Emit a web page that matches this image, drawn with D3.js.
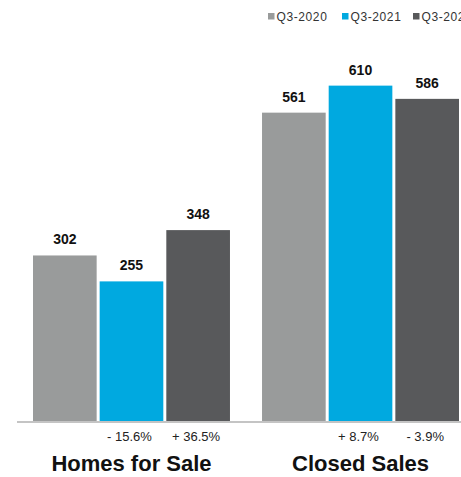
<!DOCTYPE html>
<html>
<head>
<meta charset="utf-8">
<script src="https://cdn.jsdelivr.net/npm/d3@7"></script>
<style>
  html, body { margin: 0; padding: 0; background: #fff; }
  svg { display: block; font-family: "Liberation Sans", Arial, Helvetica, sans-serif; }
</style>
</head>
<body>
<svg id="chart" width="461" height="477"></svg>
<script>
// Quarterly comparison: homes for sale vs. closed sales
const categories = ["Homes for Sale", "Closed Sales"];
const series = ["Q3-2020", "Q3-2021", "Q3-2022"];
const homesForSale = [302, 255, 348];
const closedSales = [561, 610, 586];
const yTicks = [0, 700];

const colors = ["#999b9b", "#00a9e0", "#58595b"];
const values = [homesForSale, closedSales];

const svg = d3.select("#chart");
const W = 461, H = 477;

const x0 = d3.scaleBand().domain(categories).range([33, 459]).paddingInner(0.14).paddingOuter(0);
const x1 = d3.scaleBand().domain(series).range([0, x0.bandwidth()]).paddingInner(0.045).paddingOuter(0);
const y = d3.scaleLinear().domain(d3.extent(yTicks)).range([422, 36]);

// percent change of each quarter vs. the one before it
function pctLabel(curr, prev) {
  const p = (curr - prev) / prev * 100;
  return (p >= 0 ? "+ " : "- ") + Math.abs(p).toFixed(1) + "%";
}

const groups = svg.selectAll("g.group")
  .data(categories.map((c, i) => ({ cat: c, vals: values[i] })))
  .join("g")
  .attr("class", "group")
  .attr("transform", d => `translate(${x0(d.cat)},0)`);

groups.selectAll("rect")
  .data(d => d.vals.map((v, j) => ({ s: series[j], v, j })))
  .join("rect")
  .attr("x", d => x1(d.s))
  .attr("width", x1.bandwidth())
  .attr("y", d => y(d.v))
  .attr("height", d => y(0) - y(d.v))
  .attr("fill", d => colors[d.j]);

// value labels above bars
groups.selectAll("text.val")
  .data(d => d.vals.map((v, j) => ({ s: series[j], v })))
  .join("text")
  .attr("class", "val")
  .attr("x", d => x1(d.s) + x1.bandwidth() / 2)
  .attr("y", d => y(d.v) - 11)
  .attr("text-anchor", "middle")
  .attr("font-size", 14)
  .attr("font-weight", "bold")
  .attr("fill", "#111")
  .text(d => d.v);

// change labels under the later quarters
groups.selectAll("text.chg")
  .data(d => d.vals.slice(1).map((v, k) => ({ s: series[k + 1], label: pctLabel(v, d.vals[k]) })))
  .join("text")
  .attr("class", "chg")
  .attr("x", d => x1(d.s) + x1.bandwidth() / 2 - 2)
  .attr("y", 441)
  .attr("text-anchor", "middle")
  .attr("font-size", 13)
  .attr("fill", "#222")
  .text(d => d.label);

// category labels
groups.append("text")
  .attr("x", x0.bandwidth() / 2)
  .attr("y", 471)
  .attr("text-anchor", "middle")
  .attr("font-size", 22)
  .attr("font-weight", "bold")
  .attr("fill", "#111")
  .text(d => d.cat);

// baseline
svg.append("line")
  .attr("x1", 17).attr("x2", W)
  .attr("y1", y(0)).attr("y2", y(0))
  .attr("stroke", "#c4c4c4")
  .attr("stroke-width", 2);

// legend
const legendX = [268, 342, 413];
const legend = svg.selectAll("g.legend")
  .data(series)
  .join("g")
  .attr("class", "legend")
  .attr("transform", (d, i) => `translate(${legendX[i]},13)`);
legend.append("rect")
  .attr("width", 6.5).attr("height", 6.5)
  .attr("fill", (d, i) => colors[i]);
legend.append("text")
  .attr("x", 8.5)
  .attr("y", 7.5)
  .attr("font-size", 12)
  .attr("letter-spacing", 0.6)
  .attr("fill", "#333")
  .text(d => d);
</script>
</body>
</html>
